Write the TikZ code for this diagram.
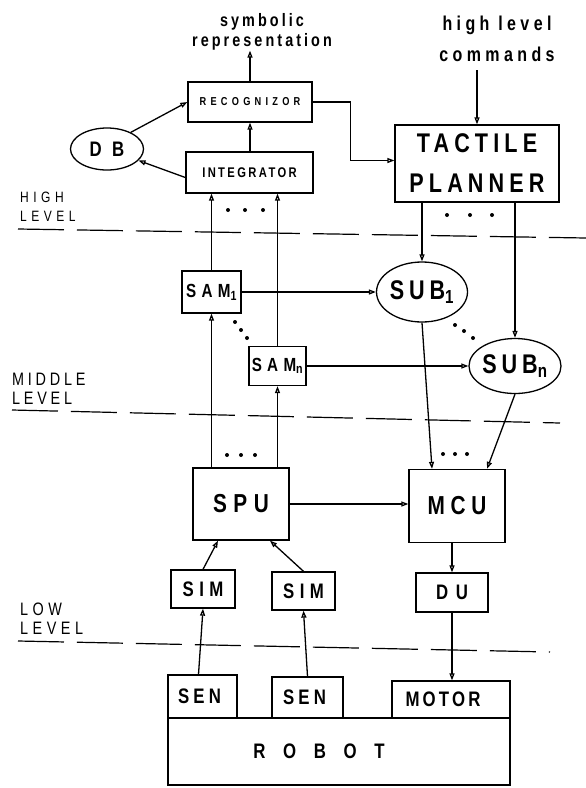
\documentclass[tikz,border=0pt]{standalone}
\usepackage{fontspec}
\newfontfamily\diagfont{Liberation Sans}[FakeStretch=0.8]
\newcommand\lbl[3]{\diagfont\bfseries\fontsize{#1}{#2}\selectfont\addfontfeature{LetterSpace=#3}}
\newcommand\lvl[3]{\diagfont\fontsize{#1}{#2}\selectfont\addfontfeature{LetterSpace=#3}}
\usetikzlibrary{arrows.meta, positioning, shapes.geometric}

\begin{document}
\begin{tikzpicture}[
    x=1pt, y=-1pt,
    box/.style={rectangle, draw=black, line width=1.3pt, inner sep=0pt, align=center},
    oval/.style={ellipse, draw=black, line width=1.3pt, inner sep=0pt},
    line/.style={draw=black, line width=1.3pt, -{Triangle[open, length=7pt, width=5pt]}},
    level/.style={draw=black, line width=1.2pt, dash pattern=on 46pt off 13pt},
    lvltext/.style={anchor=south west, align=left, inner sep=0pt, font=\lvl{15}{19}{30}}
]
    \useasboundingbox (0,0) rectangle (586,788);

    % level borders
    \draw[level] (18,229) -- (586,238);
    \draw[level] (12,410) -- (560,423);
    \draw[level] (18,641) -- (550,652);
    \node[lvltext] (high) at (20,222) {HIGH\\LEVEL};
    \node[lvltext, font=\lvl{18}{19}{21}] (middle) at (12,405) {MIDDLE\\LEVEL};
    \node[lvltext, font=\lvl{18}{19}{25}] (low) at (20,635) {LOW\\LEVEL};

    % high level
    \node[font=\lbl{18}{20}{17}, align=center, inner sep=0pt] (symb) at (262,32) {symbolic\\representation};
    \node[font=\lbl{20}{31}{22}, align=center, inner sep=0pt] (cmds) at (497,39) {high level\\commands};
    \node[box, minimum width=124pt, minimum height=40pt, font=\lbl{11.5}{14}{37}] (reco) at (250,102) {RECOGNIZOR};
    \node[box, minimum width=127pt, minimum height=41pt, font=\lbl{14}{16}{17}] (integ) at (249.5,172.5) {INTEGRATOR};
    \node[oval, minimum width=73pt, minimum height=42pt, font=\lbl{21}{24}{50}] (db) at (107,149) {DB};
    \node[box, minimum width=164pt, minimum height=77pt, font=\lbl{27}{40}{19}] (tactile) at (477,163.5) {TACTILE\\PLANNER};

    % middle level
    \node[box, minimum width=59pt, minimum height=42pt, font=\lbl{19}{22}{28}] (sam1) at (211.5,292) {SAM\textsubscript{1}};
    \node[box, minimum width=57pt, minimum height=39pt, font=\lbl{19}{22}{28}] (samn) at (277.5,366) {SAM\textsubscript{n}};
    \node[oval, minimum width=91pt, minimum height=60pt, font=\lbl{27}{30}{18}] (sub1) at (422,292) {SUB\textsubscript{1}};
    \node[oval, minimum width=90pt, minimum height=55pt, font=\lbl{27}{30}{18}] (subn) at (515,366) {SUB\textsubscript{n}};

    % low level
    \node[box, minimum width=96pt, minimum height=72pt, font=\lbl{26}{30}{25}] (spu) at (241,504) {SPU};
    \node[box, minimum width=96pt, minimum height=73pt, font=\lbl{26}{30}{22}] (mcu) at (457,506) {MCU};
    \node[box, minimum width=72pt, minimum height=39pt, font=\lbl{21}{24}{36}] (du) at (452,592.5) {DU};
    \node[box, minimum width=64pt, minimum height=38pt, font=\lbl{21}{24}{26}] (simA) at (203,589) {SIM};
    \node[box, minimum width=63pt, minimum height=38pt, font=\lbl{21}{24}{26}] (simB) at (303.5,591) {SIM};
    \node[box, minimum width=69pt, minimum height=43pt, font=\lbl{21}{24}{20}] (senA) at (202.5,696.5) {SEN\hspace{6pt}};
    \node[box, minimum width=71pt, minimum height=41pt, font=\lbl{21}{24}{20}] (senB) at (307.5,697.5) {SEN\hspace{6pt}};
    \node[box, minimum width=118pt, minimum height=37pt, font=\lbl{21}{24}{15}] (motor) at (451,699.5) {MOTOR\hspace{16pt}};
    \node[box, minimum width=342pt, minimum height=67pt, font=\lbl{21}{24}{84}] (robot) at (339,751.5) {ROBOT\hspace{40pt}};

    % dots
    \fill (228,210) circle (2pt) (245,210) circle (2pt) (263,210) circle (2pt);
    \fill (447,215) circle (2pt) (470,215) circle (2pt) (492,215) circle (2pt);
    \fill (227,455) circle (2pt) (241,455) circle (2pt) (255,455) circle (2pt);
    \fill (443,454) circle (2pt) (455,454) circle (2pt) (467,454) circle (2pt);
    \fill (235,322) circle (2pt) (241,330) circle (2pt) (247,338) circle (2pt);
    \fill (455,325) circle (2pt) (464,331) circle (2pt) (473,338) circle (2pt);

    % Connections
    \draw[line] (reco.north) -- (reco.north |- symb.south);
    \draw[line, shorten <=8pt] (cmds.south -| tactile.north) -- (tactile.north);
    \draw[line] (integ.north -| reco.south) -- (reco.south);
    \draw[line] (db.35) -- (reco.west);
    \draw[line] ([yshift=-5pt]integ.west) -- (db.-20);
    \draw[line] (reco.east) -- ++(38,0) |- ([yshift=3pt]tactile.west);
    \draw[line] (tactile.south -| sub1.north) -- (sub1.north);
    \draw[line] (tactile.south -| subn.north) -- (subn.north);
    \draw[line] (sam1.north) -- (sam1.north |- integ.south);
    \draw[line] (samn.north) -- (samn.north |- integ.south);
    \draw[line] (spu.north -| sam1.south) -- (sam1.south);
    \draw[line] (spu.north -| samn.south) -- (samn.south);
    \draw[line] (sam1.east) -- (sub1.west);
    \draw[line] (samn.east) -- (subn.west);
    \draw[line] (sub1.south) -- ([xshift=-25pt]mcu.north);
    \draw[line] (subn.south) -- ([xshift=30pt]mcu.north);
    \draw[line] (spu.east) -- (spu.east -| mcu.west);
    \draw[line] (du.north |- mcu.south) -- (du.north);
    \draw[line] (du.south) -- (du.south |- motor.north);
    \draw[line] (simA.north) -- ([xshift=-23pt]spu.south);
    \draw[line] (simB.north) -- ([xshift=29pt]spu.south);
    \draw[line] ([xshift=-4pt]senA.north) -- (simA.south);
    \draw[line] (senB.north) -- (simB.south);
\end{tikzpicture}
\end{document}
